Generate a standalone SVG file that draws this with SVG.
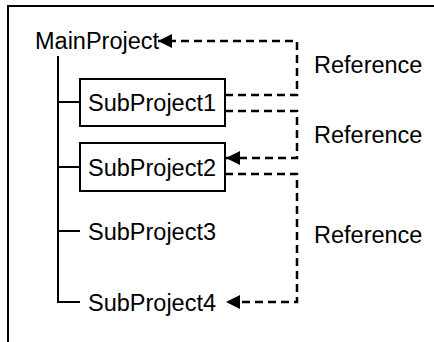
<svg xmlns="http://www.w3.org/2000/svg" width="434" height="342" viewBox="0 0 434 342">
<defs>
<style>
text{font-family:"Liberation Sans",Arial,sans-serif;font-size:23.5px;fill:#000}
.box{fill:#fff;stroke:#000;stroke-width:2}
.tree{fill:none;stroke:#000;stroke-width:2}
.ref{fill:none;stroke:#000;stroke-width:2.5;stroke-dasharray:8 5}
</style>
<marker id="arr" markerUnits="userSpaceOnUse" viewBox="0 0 14 14" refX="14" refY="7" markerWidth="14" markerHeight="14" orient="auto">
<path d="M0,0 L14,7 L0,14 z" fill="#000"/>
</marker>
</defs>
<rect x="8" y="6" width="460" height="380" fill="#fff" stroke="#000" stroke-width="2"/>
<g id="tree-lines" class="tree">
<path class="tree" d="M58,56 V302 H80"/>
<path class="tree" d="M58,102 H80 M58,167 H80 M58,231 H80"/>
</g>
<g id="MainProject"><text x="35" y="49">MainProject</text></g>
<g id="SubProject1"><rect class="box" x="80" y="79" width="145" height="47"/><text x="88" y="111">SubProject1</text></g>
<g id="SubProject2"><rect class="box" x="80" y="143" width="145" height="48"/><text x="88" y="175.5">SubProject2</text></g>
<g id="SubProject3"><text x="88" y="239.5">SubProject3</text></g>
<g id="SubProject4"><text x="88" y="310.5">SubProject4</text></g>
<g id="connectors">
<path class="ref" d="M225,95 H297 V41 H158" marker-end="url(#arr)"/>
<path class="ref" d="M225,111 H297 V158 H226" marker-end="url(#arr)"/>
<path class="ref" d="M225,174 H297 V302 H226" marker-end="url(#arr)"/>
</g>
<g id="labels">
<text x="314" y="73">Reference</text>
<text x="314" y="143">Reference</text>
<text x="314" y="243">Reference</text>
</g>
</svg>
